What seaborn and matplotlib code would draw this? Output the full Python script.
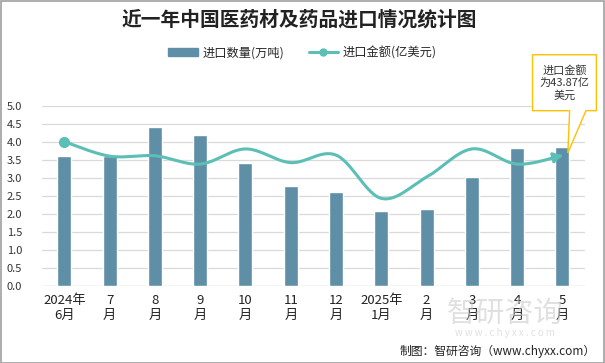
import numpy as np
import pandas as pd
import matplotlib
matplotlib.use('Agg')
import matplotlib.pyplot as plt
from matplotlib.lines import Line2D
from matplotlib.patches import Patch, Polygon
import seaborn as sns

months = ['2024年\n6月', '7\n月', '8\n月', '9\n月', '10\n月', '11\n月', '12\n月',
          '2025年\n1月', '2\n月', '3\n月', '4\n月', '5\n月']
qty = [3.60, 3.61, 4.41, 4.19, 3.41, 2.77, 2.60, 2.07, 2.13, 3.02, 3.82, 3.85]
amount = [4.00, 3.60, 3.61, 3.38, 3.80, 3.42, 3.63, 2.43, 3.02, 3.80, 3.38, 3.62]
yticks = [0.0, 0.5, 1.0, 1.5, 2.0, 2.5, 3.0, 3.5, 4.0, 4.5, 5.0]

sns.set_style('white')
plt.rcParams['font.family'] = ['Noto Sans CJK SC', 'DejaVu Sans']

bar_color = '#5E8FA7'
line_color = '#5CBFB5'

df = pd.DataFrame({'month': months, 'qty': qty, 'amount': amount})

fig = plt.figure(figsize=(6.05, 3.63), dpi=100)
ax = fig.add_axes([0.069, 0.212, 0.898, 0.497])

sns.barplot(data=df, x='month', y='qty', color=bar_color, width=0.31,
            saturation=1, ax=ax, zorder=2)

# smooth curve like excel (bezier with 1/6 tension)
x = np.arange(len(amount), dtype=float)
y = np.array(amount)
px = np.concatenate([[x[0]], x, [x[-1]]])
py = np.concatenate([[y[0]], y, [y[-1]]])
xs, ys = [], []
t = np.linspace(0, 1, 30)
for i in range(1, len(px) - 2):
    p0 = np.array([px[i], py[i]])
    p1 = np.array([px[i + 1], py[i + 1]])
    c1 = p0 + (p1 - np.array([px[i - 1], py[i - 1]])) / 6
    c2 = p1 - (np.array([px[i + 2], py[i + 2]]) - p0) / 6
    b = ((1 - t) ** 3)[:, None] * p0 + (3 * (1 - t) ** 2 * t)[:, None] * c1 \
        + (3 * (1 - t) * t ** 2)[:, None] * c2 + (t ** 3)[:, None] * p1
    xs.extend(b[:, 0])
    ys.extend(b[:, 1])
xs = np.array(xs)
ys = np.array(ys)
ax.plot(xs[:-4], ys[:-4], color=line_color, lw=2.2, zorder=3, solid_capstyle='round')
ax.annotate('', xy=(xs[-1], ys[-1]), xytext=(xs[-6], ys[-6]),
            arrowprops=dict(arrowstyle='-|>,head_length=0.5,head_width=0.3',
                            color=line_color, lw=2.2), zorder=3)
ax.plot([x[0]], [y[0]], 'o', color=line_color, ms=7, zorder=4)

ax.set_ylim(0, 5)
ax.set_xlim(-0.5, len(months) - 0.5)
ax.set_yticks(yticks)
ax.set_yticklabels([f'{v:.1f}' for v in yticks], fontsize=8, color='#333333')
ax.tick_params(axis='x', labelsize=9.5, colors='#222222', length=0, pad=6)
ax.tick_params(axis='y', length=0, pad=14)
ax.set_xlabel('')
ax.set_ylabel('')
ax.grid(axis='y', color='#D9D9D9', lw=0.9, zorder=0)
ax.set_axisbelow(True)
for s in ax.spines.values():
    s.set_visible(False)
ax.axhline(0, color='#D9D9D9', lw=0.9, zorder=1)

fig.text(0.495, 0.945, '近一年中国医药材及药品进口情况统计图', ha='center', va='center',
         fontsize=14.2, fontweight='bold', color='#222222')

handles = [Patch(color=bar_color),
           Line2D([0], [0], color=line_color, lw=2.2, marker='o', ms=5,
                  markevery=[0])]
fig.legend(handles, ['进口数量(万吨)', '进口金额(亿美元)'], loc='center',
           bbox_to_anchor=(0.5, 0.855), ncol=2, frameon=False, fontsize=8.8,
           handlelength=2.4, handleheight=0.7, handletextpad=0.4, columnspacing=2.0)

# callout for last point
call = Polygon([(10.34, 6.41), (11.75, 6.41), (11.75, 4.86), (11.52, 4.86),
                (11.12, 3.69), (11.16, 4.86), (10.34, 4.86)], closed=True,
               facecolor='white', edgecolor='#FFC000', lw=1, clip_on=False, zorder=5)
ax.add_patch(call)
ax.text(11.045, 5.64, '进口金额\n为43.87亿\n美元', ha='center', va='center',
        fontsize=8, color='#333333', linespacing=1.25, zorder=6, clip_on=False)

# watermark and source
fig.text(0.835, 0.135, '智研咨询', ha='center', va='center', fontsize=21,
         color='#C8C8C8', alpha=0.55)
fig.text(0.835, 0.083, 'w w w . c h y x x . c o m', ha='center', va='center',
         fontsize=7, color='#C8C8C8', alpha=0.55)
fig.text(0.985, 0.032, '制图：智研咨询（www.chyxx.com）', ha='right', va='center',
         fontsize=8.5, color='#222222')

fig.patches.append(plt.Rectangle((0.001, 0.001), 0.998, 0.997, transform=fig.transFigure,
                                 fill=False, edgecolor='#A0A0A0', lw=1.2))

fig.savefig('out.png', dpi=100)
